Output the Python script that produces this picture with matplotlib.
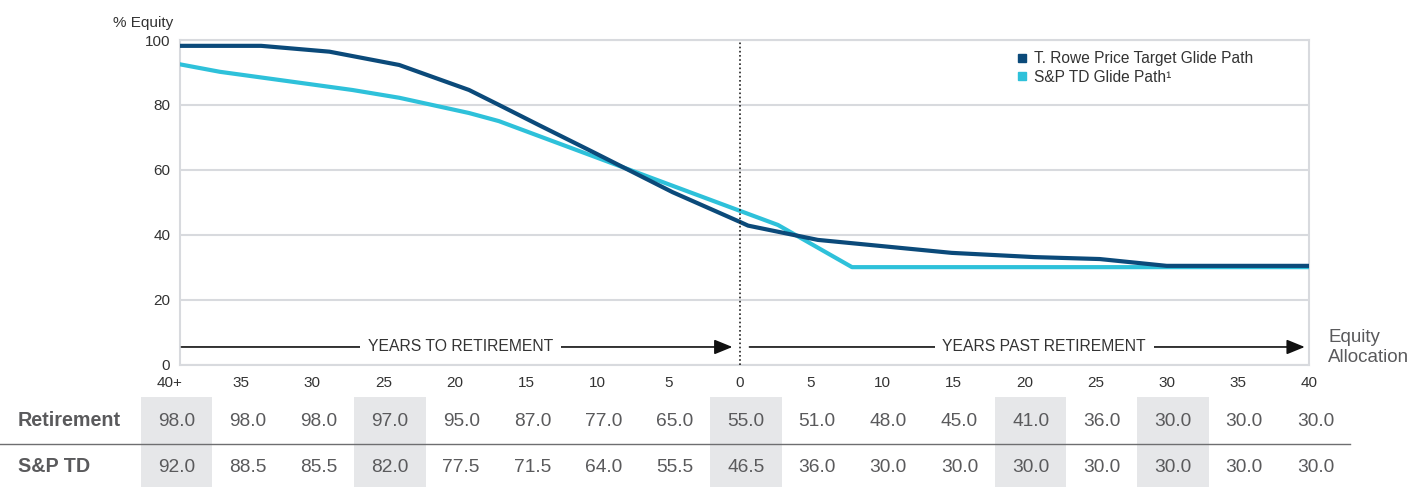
import numpy as np
import matplotlib
matplotlib.use("Agg")
import matplotlib.pyplot as plt
from matplotlib.lines import Line2D
from matplotlib.patches import Rectangle
import matplotlib.transforms as mtransforms

plt.rcParams['font.family'] = ['Liberation Sans', 'DejaVu Sans']

# ---------------- data ----------------
trp_x = [-39.3, -33.6, -28.8, -23.9, -19.0, -16.9, -14.1, -10.3, -4.7, 0.0, 0.6, 5.5, 14.9, 20.7, 25.3, 30.0, 40.0]
trp_y = [98.2, 98.2, 96.4, 92.3, 84.6, 80.0, 73.8, 65.5, 53.1, 44.0, 42.8, 38.4, 34.4, 33.1, 32.5, 30.4, 30.4]
sp_x = [-39.3, -36.5, -27.2, -23.9, -19.0, -16.9, 0.0, 2.7, 7.9, 40.0]
sp_y = [92.5, 90.2, 84.6, 82.2, 77.5, 75.0, 47.4, 43.0, 30.0, 30.0]

col_labels = ["40+", "35", "30", "25", "20", "15", "10", "5", "0",
              "5", "10", "15", "20", "25", "30", "35", "40"]
col_years = [-40, -35, -30, -25, -20, -15, -10, -5, 0, 5, 10, 15, 20, 25, 30, 35, 40]
row_names = ["Retirement", "S&P TD"]
retirement_vals = [98.0, 98.0, 98.0, 97.0, 95.0, 87.0, 77.0, 65.0, 55.0,
                   51.0, 48.0, 45.0, 41.0, 36.0, 30.0, 30.0, 30.0]
sp_vals = [92.0, 88.5, 85.5, 82.0, 77.5, 71.5, 64.0, 55.5, 46.5,
           36.0, 30.0, 30.0, 30.0, 30.0, 30.0, 30.0, 30.0]
highlight_cols = [0, 3, 8, 12, 14]
series_names = ["T. Rowe Price Target Glide Path", "S&P TD Glide Path\u00b9"]
y_ticks = [0, 20, 40, 60, 80, 100]

# ---------------- style ----------------
DARK = "#0b4a7a"
CYAN = "#2ec1da"
GRID = "#d8dade"
TXT = "#333333"
TBL = "#5a5a5c"

W, H = 1419, 487
fig = plt.figure(figsize=(W / 100, H / 100), dpi=100)

def fx(px):
    return px / W

def fy(py):
    return 1 - py / H

ax = fig.add_axes([fx(180), fy(364.5), fx(1309 - 180), (364.5 - 40) / H])
ax.set_xlim(-39.3, 40)
ax.set_ylim(0, 100)

for s in ax.spines.values():
    s.set_color(GRID)
    s.set_linewidth(1.5)

ax.set_yticks(y_ticks)
ax.set_yticklabels([str(v) for v in y_ticks], fontsize=11, color=TXT)
ax.tick_params(axis='y', length=0, pad=7)
ax.set_xticks([])
ax.grid(axis='y', color=GRID, linewidth=1.5)
ax.set_axisbelow(True)

ax.plot(sp_x, sp_y, color=CYAN, lw=3, solid_joinstyle='round', zorder=3)
ax.plot(trp_x, trp_y, color=DARK, lw=3, solid_joinstyle='round', zorder=4)

ax.axvline(0, color="#222222", lw=1.2, ls=(0, (1, 1.5)), zorder=5)

# x labels
blend = mtransforms.blended_transform_factory(ax.transData, fig.transFigure)
for yr, lab in zip(col_years, col_labels):
    ax.text(yr, fy(383), lab, transform=blend,
            ha='center', va='center', fontsize=11, color=TXT, clip_on=False)

fig.text(fx(173), fy(23), "% Equity", ha='right', va='center', fontsize=11, color=TXT)

# arrows
ay = 5.4
aprops = dict(arrowstyle='-|>,head_length=1.1,head_width=0.45', color='#111111', lw=1.2,
              shrinkA=0, shrinkB=0, mutation_scale=10)
ax.annotate("", xy=(-0.5, ay), xytext=(-39.2, ay), arrowprops=aprops, zorder=6)
ax.annotate("", xy=(39.7, ay), xytext=(0.7, ay), arrowprops=aprops, zorder=6)
bb = dict(boxstyle='square,pad=0.5', fc='white', ec='none')
ax.text(-19.6, ay, "YEARS TO RETIREMENT", ha='center', va='center', fontsize=11.3, color=TXT,
        bbox=bb, zorder=7)
ax.text(21.4, ay, "YEARS PAST RETIREMENT", ha='center', va='center', fontsize=11.3, color=TXT,
        bbox=bb, zorder=7)

fig.text(fx(1328), fy(338), "Equity", ha='left', va='center', fontsize=13.5, color=TBL)
fig.text(fx(1328), fy(357), "Allocation", ha='left', va='center', fontsize=13.5, color=TBL)

# legend
handles = [Line2D([], [], marker='s', ls='none', color=DARK, markersize=6),
           Line2D([], [], marker='s', ls='none', color=CYAN, markersize=6)]
leg = fig.legend(handles, series_names, loc='upper left', bbox_to_anchor=(fx(1017), fy(51)),
                 frameon=False, fontsize=11.2, handlelength=0.6, handletextpad=0.5,
                 labelspacing=0.25, borderpad=0, borderaxespad=0)
for t in leg.get_texts():
    t.set_color(TXT)

# table
col_centers = [yr + 0.45 for yr in col_years]
for k in highlight_cols:
    r = Rectangle((col_centers[k] - 2.5, 0), 5.0, fy(397), transform=blend,
                  facecolor="#e6e7e9", edgecolor='none', clip_on=False, zorder=0)
    fig.add_artist(r)

fig.add_artist(Line2D([0, fx(1350)], [fy(444), fy(444)], transform=fig.transFigure,
                      color="#6e6e70", lw=1.0))

for name, vals, py in zip(row_names, [retirement_vals, sp_vals], [421, 467]):
    fig.text(fx(18), fy(py), name, ha='left', va='center', fontsize=14.2,
             fontweight='bold', color=TBL)
    for c, v in zip(col_centers, vals):
        fig.text(c, fy(py), f"{v:.1f}", transform=blend, ha='center', va='center',
                 fontsize=13.8, color=TBL)

fig.savefig("out.png", dpi=100)
